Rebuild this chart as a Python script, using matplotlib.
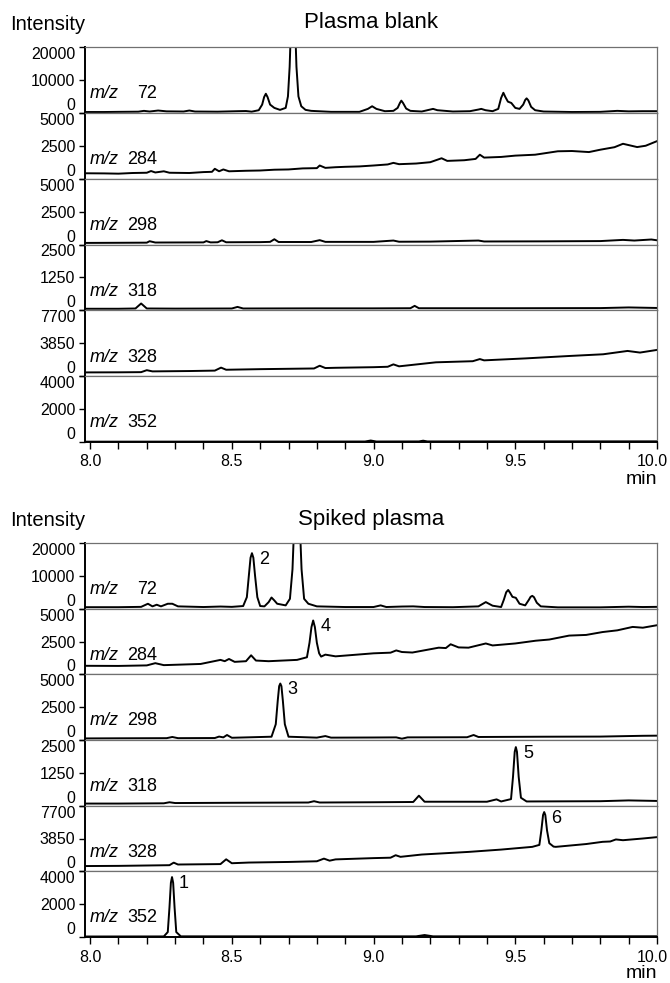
import matplotlib
matplotlib.use('Agg')
import matplotlib.pyplot as plt
import matplotlib.transforms as mtransforms

plt.rcParams['font.family'] = ['Liberation Sans', 'DejaVu Sans']

# channel labels and intensity axes (one row per ion trace)
mz_values = ['72', '284', '298', '318', '328', '352']
y_tops = [20000, 5000, 5000, 2500, 7700, 4000]
y_mids = [10000, 2500, 2500, 1250, 3850, 2000]
x_ticks = [8.0, 8.5, 9.0, 9.5, 10.0]

# ---- plasma blank (time in min, intensity) ----
blank_72_t = [7.982, 8.05, 8.10, 8.17, 8.19, 8.21, 8.24, 8.27, 8.33, 8.35, 8.37, 8.45,
              8.52, 8.55, 8.57, 8.595, 8.607, 8.614, 8.62, 8.626, 8.635, 8.65, 8.67,
              8.69, 8.698, 8.704, 8.710, 8.716, 8.722, 8.728, 8.735, 8.745, 8.76, 8.78,
              8.85, 8.95, 8.98, 8.995, 9.01, 9.04, 9.07, 9.085, 9.093, 9.098, 9.104, 9.115,
              9.13, 9.17, 9.20, 9.21, 9.225, 9.28, 9.34, 9.37, 9.38, 9.395, 9.42, 9.44,
              9.450, 9.458, 9.465, 9.474, 9.486, 9.50, 9.515, 9.528, 9.535, 9.54, 9.546,
              9.556, 9.57, 9.60, 9.70, 9.80, 9.86, 9.90, 9.95, 10.0]
blank_72_i = [250, 250, 300, 350, 600, 400, 700, 450, 400, 700, 400, 350,
              500, 550, 350, 800, 2500, 4800, 5800, 4800, 2500, 1500, 900,
              1500, 5000, 14000, 30000, 45000, 30000, 14000, 5000, 2000, 900, 600,
              300, 300, 1200, 2000, 1200, 500, 600, 1500, 3000, 3700, 3000, 1300,
              600, 400, 1000, 1200, 800, 400, 500, 1000, 1200, 800, 500, 1200,
              4500, 6100, 4800, 3400, 3000, 1500, 1200, 2500, 3900, 4400, 3800,
              1800, 800, 400, 250, 300, 600, 450, 500, 500]

blank_284_t = [7.982, 8.05, 8.10, 8.15, 8.20, 8.215, 8.23, 8.26, 8.28, 8.35, 8.40, 8.43,
               8.44, 8.455, 8.47, 8.49, 8.55, 8.60, 8.65, 8.70, 8.75, 8.80, 8.81, 8.83,
               8.866, 8.90, 8.95, 9.00, 9.05, 9.07, 9.09, 9.15, 9.20, 9.24, 9.26, 9.32,
               9.36, 9.375, 9.39, 9.45, 9.50, 9.57, 9.65, 9.70, 9.76, 9.80, 9.85, 9.88,
               9.93, 9.96, 10.0]
blank_284_i = [410, 400, 380, 430, 450, 580, 470, 560, 450, 430, 500, 520,
               750, 560, 700, 560, 600, 620, 680, 700, 780, 800, 1000, 820,
               870, 900, 930, 1000, 1080, 1200, 1100, 1150, 1250, 1550, 1350, 1400,
               1500, 1820, 1600, 1650, 1750, 1820, 2080, 2100, 2020, 2200, 2390, 2650,
               2400, 2500, 2850]

blank_298_t = [7.982, 8.10, 8.20, 8.21, 8.23, 8.40, 8.41, 8.425, 8.45, 8.465, 8.48, 8.60,
               8.635, 8.65, 8.665, 8.78, 8.81, 8.83, 9.00, 9.07, 9.09, 9.20, 9.37, 9.39,
               9.60, 9.80, 9.88, 9.92, 9.98, 10.0]
blank_298_i = [120, 130, 140, 250, 150, 160, 260, 160, 170, 320, 170, 180,
               200, 400, 190, 190, 330, 200, 200, 300, 210, 220, 300, 230,
               240, 260, 350, 300, 380, 320]

blank_318_t = [7.982, 8.10, 8.16, 8.18, 8.20, 8.30, 8.50, 8.52, 8.54, 8.80, 9.00, 9.13,
               9.145, 9.16, 9.50, 9.80, 9.90, 10.0]
blank_318_i = [60, 60, 70, 260, 70, 65, 70, 130, 70, 75, 75, 80,
               170, 80, 80, 85, 110, 90]

blank_328_t = [7.982, 8.10, 8.18, 8.20, 8.22, 8.35, 8.44, 8.462, 8.48, 8.60, 8.79, 8.81,
               8.83, 8.866, 9.00, 9.05, 9.07, 9.09, 9.22, 9.35, 9.375, 9.39, 9.537, 9.69,
               9.81, 9.896, 9.94, 10.0]
blank_328_i = [440, 450, 470, 700, 560, 600, 650, 1000, 750, 820, 900, 1220,
               950, 980, 1050, 1100, 1380, 1150, 1620, 1750, 2000, 1850, 2080, 2360,
               2560, 2950, 2760, 3070]

blank_352_t = [7.982, 8.50, 8.97, 8.99, 9.01, 9.16, 9.175, 9.19, 10.0]
blank_352_i = [20, 25, 30, 90, 30, 35, 80, 35, 40]

# ---- spiked plasma ----
spiked_72_t = [7.982, 8.10, 8.18, 8.204, 8.22, 8.235, 8.25, 8.274, 8.29, 8.31, 8.40, 8.46,
               8.50, 8.54, 8.553, 8.560, 8.566, 8.571, 8.576, 8.582, 8.590, 8.60, 8.615,
               8.630, 8.64, 8.65, 8.66, 8.69, 8.705, 8.714, 8.722, 8.73, 8.738, 8.746,
               8.755, 8.77, 8.80, 8.90, 9.00, 9.025, 9.045, 9.10, 9.14, 9.18, 9.28, 9.37,
               9.396, 9.42, 9.45, 9.460, 9.468, 9.475, 9.482, 9.490, 9.502, 9.515, 9.535,
               9.548, 9.554, 9.56, 9.566, 9.576, 9.59, 9.65, 9.80, 9.90, 9.95, 10.0]
spiked_72_i = [450, 450, 550, 1500, 700, 1200, 700, 1500, 1500, 700, 500, 650,
               550, 800, 3500, 10000, 15500, 16900, 15500, 10000, 3500, 800, 700,
               2000, 3400, 2500, 1500, 1000, 3000, 12000, 30000, 45000, 30000, 12000,
               3000, 1500, 700, 500, 500, 1000, 500, 650, 700, 500, 450, 700,
               2000, 900, 500, 2800, 5000, 5700, 4800, 3600, 3300, 1500, 1000,
               2700, 3600, 3900, 3500, 1800, 700, 400, 400, 600, 500, 550]

spiked_284_t = [7.982, 8.10, 8.20, 8.23, 8.26, 8.39, 8.46, 8.475, 8.49, 8.51, 8.55, 8.568,
                8.585, 8.63, 8.73, 8.765, 8.774, 8.781, 8.787, 8.793, 8.800, 8.808, 8.815,
                8.83, 8.866, 9.00, 9.06, 9.08, 9.10, 9.137, 9.23, 9.255, 9.272, 9.30,
                9.335, 9.396, 9.42, 9.50, 9.572, 9.62, 9.69, 9.75, 9.808, 9.86, 9.914,
                9.95, 10.0]
spiked_284_i = [650, 640, 680, 850, 700, 790, 1100, 1000, 1170, 950, 1000, 1450,
                1050, 1000, 1100, 1300, 2400, 3600, 4100, 3600, 2400, 1600, 1350,
                1500, 1370, 1600, 1650, 1820, 1700, 1660, 2030, 2000, 2290, 2050,
                2030, 2350, 2200, 2350, 2560, 2650, 2950, 3000, 3220, 3350, 3610,
                3550, 3740]

spiked_298_t = [7.982, 8.10, 8.27, 8.29, 8.31, 8.44, 8.455, 8.47, 8.483, 8.50, 8.64, 8.655,
                8.662, 8.667, 8.671, 8.675, 8.680, 8.687, 8.70, 8.80, 8.83, 8.85, 9.00,
                9.08, 9.10, 9.12, 9.33, 9.353, 9.37, 9.60, 9.80, 9.95, 10.0]
spiked_298_i = [120, 130, 140, 230, 140, 150, 260, 200, 380, 170, 250, 1200,
                3000, 4100, 4300, 4100, 3000, 1200, 250, 180, 300, 180, 190,
                200, 100, 200, 210, 380, 230, 250, 260, 320, 330]

spiked_318_t = [7.982, 8.10, 8.26, 8.28, 8.30, 8.50, 8.77, 8.79, 8.81, 9.00, 9.14, 9.16,
                9.18, 9.40, 9.434, 9.45, 9.485, 9.492, 9.498, 9.502, 9.506, 9.512, 9.52,
                9.54, 9.80, 9.90, 10.0]
spiked_318_i = [80, 80, 90, 130, 100, 110, 120, 170, 120, 130, 140, 380,
                150, 150, 240, 160, 250, 1100, 2050, 2230, 2050, 1100, 300,
                160, 170, 200, 180]

spiked_328_t = [7.982, 8.10, 8.28, 8.295, 8.31, 8.46, 8.48, 8.50, 8.56, 8.70, 8.80, 8.825,
                8.845, 8.866, 9.00, 9.06, 9.078, 9.095, 9.17, 9.336, 9.45, 9.56, 9.585,
                9.592, 9.598, 9.602, 9.606, 9.612, 9.62, 9.635, 9.643, 9.75, 9.808, 9.835,
                9.855, 9.88, 9.95, 10.0]
spiked_328_i = [620, 640, 720, 1020, 800, 850, 1410, 950, 1030, 1100, 1180, 1490,
                1250, 1400, 1550, 1600, 1890, 1700, 1970, 2280, 2550, 2870, 3100,
                4800, 6600, 6950, 6600, 4800, 3300, 2900, 2870, 3200, 3460, 3500,
                3740, 3650, 3850, 4010]

spiked_352_t = [7.982, 8.26, 8.274, 8.280, 8.285, 8.289, 8.293, 8.298, 8.304, 8.32, 9.15,
                9.18, 9.21, 10.0]
spiked_352_i = [30, 35, 300, 1800, 3300, 3650, 3300, 1800, 300, 40, 40,
                120, 40, 45]

# numbered analyte peaks in the spiked sample
peak_labels = ['2', '4', '3', '5', '6', '1']
peak_rt = [8.571, 8.787, 8.671, 9.502, 9.602, 8.289]
peak_height = [16900, 4100, 4300, 2230, 6950, 3650]

blank_traces = [(blank_72_t, blank_72_i), (blank_284_t, blank_284_i),
                (blank_298_t, blank_298_i), (blank_318_t, blank_318_i),
                (blank_328_t, blank_328_i), (blank_352_t, blank_352_i)]
spiked_traces = [(spiked_72_t, spiked_72_i), (spiked_284_t, spiked_284_i),
                 (spiked_298_t, spiked_298_i), (spiked_318_t, spiked_318_i),
                 (spiked_328_t, spiked_328_i), (spiked_352_t, spiked_352_i)]

W, H = 670, 983
fig = plt.figure(figsize=(W / 100, H / 100), dpi=100)
GRAY = '#707070'


def draw_group(top_px, bottom_px, traces, title):
    left = 85 / W
    width = 572 / W
    row_h = (bottom_px - top_px) / 6
    axes = []
    for k, (t, y) in enumerate(traces):
        y0 = 1 - (top_px + (k + 1) * row_h) / H
        ax = fig.add_axes([left, y0, width, row_h / H])
        ax.plot(t, y, color='k', lw=1.4)
        ax.set_xlim(7.982, 10.0)
        ax.set_ylim(0, y_tops[k])
        ax.set_yticks([0, y_mids[k], y_tops[k]])
        ax.set_yticklabels(['0', str(y_mids[k]), str(y_tops[k])], fontsize=11.5)
        lab = ax.get_yticklabels()
        lab[0].set_va('bottom')
        lab[2].set_va('top')
        ax.tick_params(axis='y', direction='out', length=4, width=1, pad=3)
        ax.spines['left'].set_linewidth(1.4)
        ax.spines['right'].set_color(GRAY)
        ax.spines['right'].set_linewidth(0.9)
        ax.spines['top'].set_color(GRAY)
        ax.spines['top'].set_linewidth(0.9)
        if k < 5:
            ax.spines['bottom'].set_color(GRAY)
            ax.spines['bottom'].set_linewidth(0.9)
            ax.tick_params(axis='x', which='both', bottom=False, labelbottom=False)
        else:
            ax.spines['bottom'].set_linewidth(1.4)
            ax.set_xticks(x_ticks)
            ax.set_xticklabels(['%.1f' % v for v in x_ticks])
            ax.set_xticks([v / 10 for v in range(80, 101)], minor=True)
            ax.tick_params(axis='x', which='both', direction='out', length=5,
                           width=1, labelsize=11.5, pad=4)
            last = ax.get_xticklabels()[-1]
            shift = mtransforms.ScaledTranslation(-5 / 100, 0, fig.dpi_scale_trans)
            last.set_transform(last.get_transform() + shift)
        ax.text(0.009, 0.29, 'm/z', style='italic', fontsize=13,
                transform=ax.transAxes, ha='left', va='center')
        ax.text(0.126, 0.29, mz_values[k], fontsize=13,
                transform=ax.transAxes, ha='right', va='center')
        axes.append(ax)
    fig.text(371 / W, 1 - (top_px - 24) / H, title, fontsize=16,
             ha='center', va='center')
    fig.text(10 / W, 1 - (top_px - 22) / H, 'Intensity', fontsize=14.5,
             ha='left', va='center')
    fig.text(657 / W, 1 - (bottom_px + 37) / H, 'min', fontsize=14,
             ha='right', va='center')
    return axes


draw_group(47, 442, blank_traces, 'Plasma blank')
spiked_axes = draw_group(543, 937, spiked_traces, 'Spiked plasma')

for lbl, rt, h, ax in zip(peak_labels, peak_rt, peak_height, spiked_axes):
    ax.annotate(lbl, xy=(rt, h), xytext=(7, -6),
                textcoords='offset pixels', fontsize=13,
                ha='left', va='center')

fig.savefig('out.png', dpi=100)
